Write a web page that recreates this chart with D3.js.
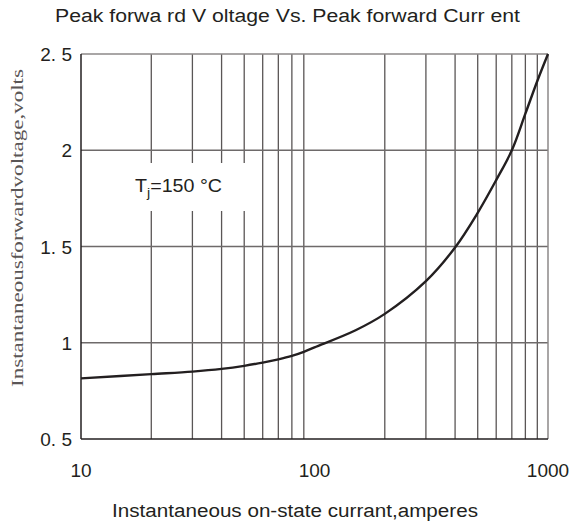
<!DOCTYPE html>
<html>
<head>
<meta charset="utf-8">
<script src="https://cdn.jsdelivr.net/npm/d3@7"></script>
<style>
  body { margin: 0; background: #fff; }
  svg text { font-family: "Liberation Sans", Arial, sans-serif; fill: #231f20; }
</style>
</head>
<body>
<div class="chart"></div>
<script>
// data
const current = [10, 20, 30, 40, 50, 60, 70, 80, 90, 100, 150, 200, 300, 400, 500, 600, 700, 800, 900, 1000];
const voltage = [0.815, 0.837, 0.85, 0.864, 0.88, 0.897, 0.914, 0.932, 0.953, 0.976, 1.065, 1.15, 1.32, 1.495, 1.675, 1.845, 2.0, 2.19, 2.36, 2.5];
const xTicks = [10, 100, 1000];
const xTickLabels = ['10', '100', '1000'];
const xGrid = [20, 30, 40, 50, 60, 70, 80, 90, 200, 300, 400, 500, 600, 700, 800, 900];
const yTicks = [0.5, 1, 1.5, 2, 2.5];
const yTickLabels = ['0. 5', '1', '1. 5', '2', '2. 5'];
const yGrid = [1, 1.5, 2];

const W = 573, H = 526;
const plotL = 81, plotR = 548, plotT = 54, plotB = 439;

const svg = d3.select('.chart').append('svg')
  .attr('width', W)
  .attr('height', H);

const x = d3.scaleLog().domain([10, 1000]).range([plotL, plotR]);
const y = d3.scaleLinear().domain([0.5, 2.5]).range([plotB, plotT]);

// grid
svg.append('g').selectAll('line')
  .data(xGrid)
  .enter().append('line')
  .attr('x1', d => x(d)).attr('x2', d => x(d))
  .attr('y1', plotT).attr('y2', plotB)
  .attr('stroke', '#5a5656')
  .attr('stroke-width', 1.3);

svg.append('g').selectAll('line')
  .data(yGrid)
  .enter().append('line')
  .attr('x1', plotL).attr('x2', plotR)
  .attr('y1', d => y(d)).attr('y2', d => y(d))
  .attr('stroke', '#6e6a6a')
  .attr('stroke-width', 1.5);

// label box hides the grid behind it
svg.append('rect')
  .attr('x', plotL + 2).attr('y', 163)
  .attr('width', 176).attr('height', 48)
  .attr('fill', '#fff');

// frame: top/right gray, left/bottom dark
svg.append('line').attr('x1', plotL).attr('x2', plotR).attr('y1', plotT).attr('y2', plotT)
  .attr('stroke', '#8c8888').attr('stroke-width', 1.5);
svg.append('line').attr('x1', plotR).attr('x2', plotR).attr('y1', plotT).attr('y2', plotB)
  .attr('stroke', '#8c8888').attr('stroke-width', 1.5);
svg.append('line').attr('x1', plotL).attr('x2', plotL).attr('y1', plotT).attr('y2', plotB)
  .attr('stroke', '#231f20').attr('stroke-width', 1.5);
svg.append('line').attr('x1', plotL).attr('x2', plotR).attr('y1', plotB).attr('y2', plotB)
  .attr('stroke', '#231f20').attr('stroke-width', 1.5);

// curve
const line = d3.line()
  .x((d, i) => x(current[i]))
  .y(d => y(d))
  .curve(d3.curveCatmullRom.alpha(0.5));

svg.append('path')
  .datum(voltage)
  .attr('d', line)
  .attr('fill', 'none')
  .attr('stroke', '#231f20')
  .attr('stroke-width', 2.4);

// tick labels
svg.append('g').selectAll('text')
  .data(yTicks)
  .enter().append('text')
  .attr('x', 72)
  .attr('y', d => y(d) + 7)
  .attr('text-anchor', 'end')
  .style('font-size', '19px')
  .text((d, i) => yTickLabels[i]);

svg.append('g').selectAll('text')
  .data(xTicks)
  .enter().append('text')
  .attr('x', d => x(d))
  .attr('y', 477)
  .attr('text-anchor', 'middle')
  .style('font-size', '19px')
  .text((d, i) => xTickLabels[i]);

// titles
svg.append('text')
  .attr('x', 55).attr('y', 22)
  .style('font-size', '18px')
  .attr('textLength', 465)
  .attr('lengthAdjust', 'spacingAndGlyphs')
  .text('Peak forwa rd V oltage  Vs. Peak forward Curr ent');

svg.append('text')
  .attr('x', 112).attr('y', 517)
  .style('font-size', '18px')
  .attr('textLength', 366)
  .attr('lengthAdjust', 'spacingAndGlyphs')
  .text('Instantaneous on-state currant,amperes');

svg.append('text')
  .attr('transform', 'translate(23,387) rotate(-90)')
  .style('font-family', '"Liberation Serif", "DejaVu Serif", serif')
  .style('font-size', '17px')
  .style('fill', '#5a5656')
  .attr('textLength', 318)
  .attr('lengthAdjust', 'spacingAndGlyphs')
  .text('Instantaneousforwardvoltage,volts');

// junction temperature label
const tj = svg.append('text')
  .attr('x', 135).attr('y', 192)
  .style('font-size', '18px')
  .attr('textLength', 87)
  .attr('lengthAdjust', 'spacingAndGlyphs');
tj.append('tspan').text('T');
tj.append('tspan').attr('dy', 5).style('font-size', '13px').text('j');
tj.append('tspan').attr('dy', -5).text('=150 °C');
</script>
</body>
</html>
